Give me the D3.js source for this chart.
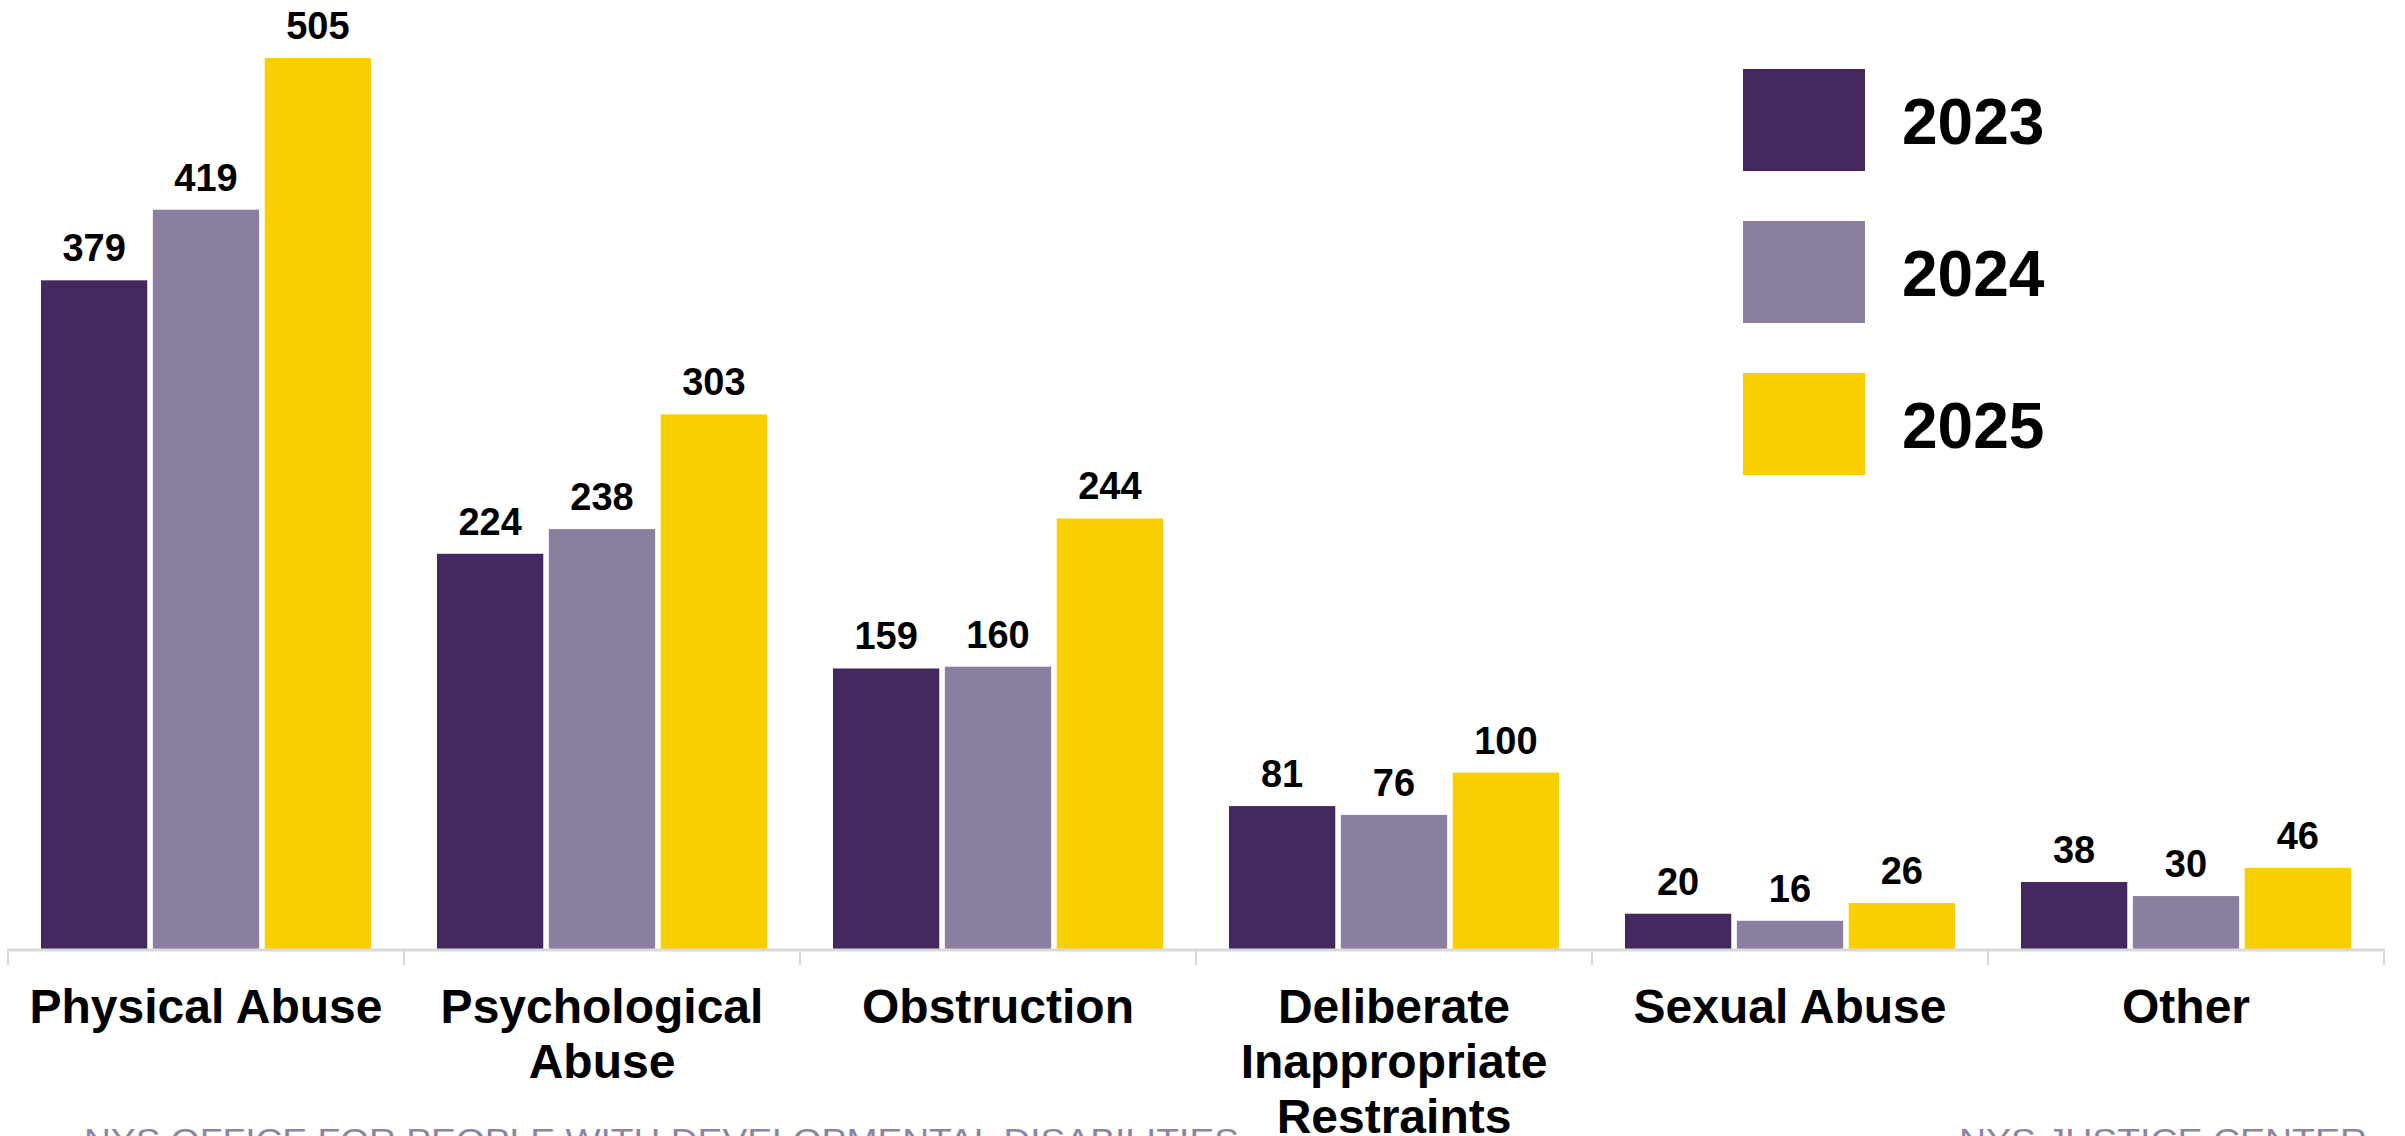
<!DOCTYPE html>
<html>
<head>
<meta charset="utf-8">
<script src="https://cdn.jsdelivr.net/npm/d3@7"></script>
<style>
  html, body { margin: 0; padding: 0; background: #ffffff; }
  svg { display: block; }
  text { font-family: "Liberation Sans", Arial, sans-serif; }
</style>
</head>
<body>
<svg id="chart" width="2405" height="1136"></svg>
<script>
// Substantiated allegations by category, three reporting years
const categories = ["Physical Abuse", "Psychological Abuse", "Obstruction",
  "Deliberate Inappropriate Restraints", "Sexual Abuse", "Other"];
const categoryLines = [
  ["Physical Abuse"],
  ["Psychological", "Abuse"],
  ["Obstruction"],
  ["Deliberate", "Inappropriate", "Restraints"],
  ["Sexual Abuse"],
  ["Other"]
];
const years = ["2023", "2024", "2025"];
const values2023 = [379, 224, 159, 81, 20, 38];
const values2024 = [419, 238, 160, 76, 16, 30];
const values2025 = [505, 303, 244, 100, 26, 46];
const seriesValues = [values2023, values2024, values2025];
const colors = ["#44295e", "#8a7f9e", "#f9cf00"];
const footerLeft = "NYS OFFICE FOR PEOPLE WITH DEVELOPMENTAL DISABILITIES";
const footerRight = "NYS JUSTICE CENTER";

const svg = d3.select("#chart");

const baseY = 949;
const x0 = d3.scaleBand().domain(categories).range([8, 2384]).paddingInner(0).paddingOuter(0);
const x1 = d3.scaleBand().domain(years).range([33, 363]).paddingInner(0.05);
const y = d3.scaleLinear().domain([0, 505]).range([baseY, 58]);

// bars with value labels above
const groups = svg.append("g").selectAll("g")
  .data(categories)
  .join("g")
  .attr("transform", d => `translate(${x0(d)},0)`);

groups.each(function(cat, ci) {
  const g = d3.select(this);
  years.forEach((yr, si) => {
    const v = seriesValues[si][ci];
    g.append("rect")
      .attr("x", x1(yr))
      .attr("y", y(v))
      .attr("width", x1.bandwidth())
      .attr("height", baseY - y(v))
      .attr("fill", colors[si]);
    g.append("text")
      .attr("x", x1(yr) + x1.bandwidth() / 2)
      .attr("y", y(v) - 19)
      .attr("text-anchor", "middle")
      .attr("font-size", 38)
      .attr("font-weight", "bold")
      .attr("fill", "#000")
      .text(v);
  });
});

// category axis: baseline with boundary ticks
const axis = svg.append("g");
axis.append("line")
  .attr("x1", x0.range()[0]).attr("x2", x0.range()[1])
  .attr("y1", baseY + 1).attr("y2", baseY + 1)
  .attr("stroke", "#d9d9d9").attr("stroke-width", 3);
const bounds = categories.map(c => x0(c)).concat([x0.range()[1]]);
axis.selectAll("line.tick")
  .data(bounds)
  .join("line")
  .attr("class", "tick")
  .attr("x1", d => d).attr("x2", d => d)
  .attr("y1", baseY).attr("y2", baseY + 16)
  .attr("stroke", "#d9d9d9").attr("stroke-width", 2);

axis.selectAll("text.cat")
  .data(categories)
  .join("text")
  .attr("class", "cat")
  .attr("text-anchor", "middle")
  .attr("font-size", 48)
  .attr("font-weight", "bold")
  .attr("fill", "#000")
  .each(function(d, i) {
    const t = d3.select(this);
    categoryLines[i].forEach((line, li) => {
      t.append("tspan")
        .attr("x", x0(d) + x0.bandwidth() / 2)
        .attr("y", 1023 + li * 55)
        .text(line);
    });
  });

// legend
const legend = svg.append("g").selectAll("g")
  .data(years)
  .join("g")
  .attr("transform", (d, i) => `translate(1743,${69 + i * 152})`);
legend.append("rect")
  .attr("width", 122).attr("height", 102)
  .attr("fill", (d, i) => colors[i]);
legend.append("text")
  .attr("x", 159).attr("y", 75)
  .attr("font-size", 64)
  .attr("font-weight", "bold")
  .attr("fill", "#000")
  .text(d => d);

// footer lines
svg.append("text")
  .attr("x", 84).attr("y", 1152)
  .attr("font-size", 33)
  .attr("fill", "#8c84a3")
  .attr("textLength", 1155)
  .attr("lengthAdjust", "spacingAndGlyphs")
  .text(footerLeft);
svg.append("text")
  .attr("x", 1959).attr("y", 1152)
  .attr("font-size", 33)
  .attr("fill", "#8c84a3")
  .attr("textLength", 408)
  .attr("lengthAdjust", "spacingAndGlyphs")
  .text(footerRight);
</script>
</body>
</html>
